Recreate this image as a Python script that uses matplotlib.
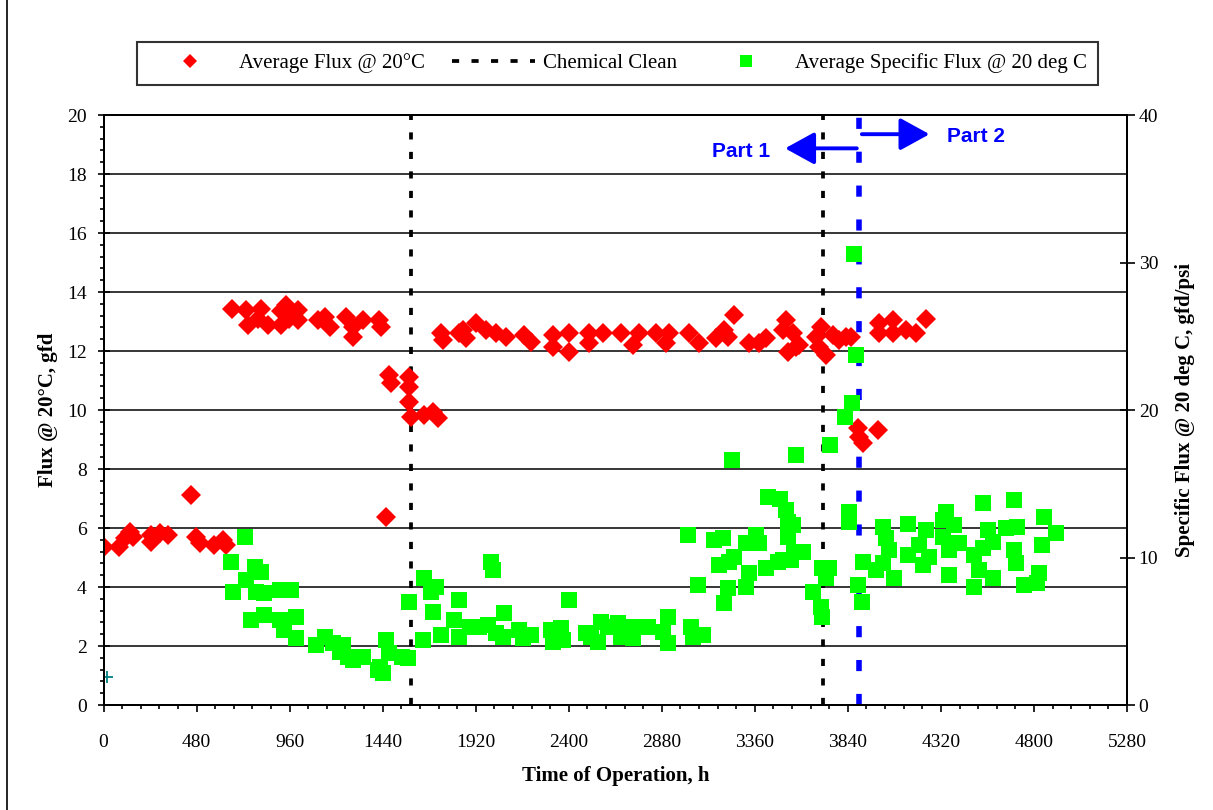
import matplotlib
matplotlib.use("Agg")
import matplotlib.pyplot as plt
from matplotlib.lines import Line2D
from matplotlib.ticker import MultipleLocator

plt.rcParams["font.family"] = ["Liberation Serif", "DejaVu Serif"]

# Average flux @ 20 C (gfd), left axis
flux_hours = [0, 79, 108, 134, 151, 246, 246, 289, 332, 452, 478, 495, 572, 615, 633,
              664, 736, 744, 796, 813, 847, 916, 942, 916, 959, 1002, 1002, 1105, 1140,
              1166, 1252, 1286, 1286, 1337, 1423, 1432,
              1458, 1475, 1484, 1578, 1578, 1578, 1587, 1655, 1698, 1724,
              1741, 1750, 1836, 1853, 1870, 1922, 1973, 2025, 2077, 2171, 2205, 2317,
              2317, 2403, 2403, 2506, 2506, 2575, 2670, 2730, 2764, 2850, 2902, 2919,
              3022, 3074, 3160, 3203, 3220, 3254, 3332, 3383, 3417, 3503, 3521, 3529,
              3555, 3572, 3589, 3675, 3693, 3701, 3727, 3761, 3796, 3830, 3856,
              3890, 3899, 3916, 3993, 4002, 4002, 4071, 4071, 4140, 4191, 4243]
flux_values = [5.37, 5.37, 5.66, 5.87, 5.70, 5.76, 5.54, 5.83, 5.76, 7.12, 5.70, 5.49, 5.42, 5.59, 5.42,
               13.41, 13.39, 12.88, 13.10, 13.41, 12.88, 13.37, 13.56, 12.88, 13.10, 13.39, 13.05, 13.05, 13.16,
               12.82, 13.16, 12.82, 12.48, 13.05, 13.05, 12.82,
               6.38, 11.19, 10.90, 11.13, 10.79, 10.28, 9.77, 9.83, 9.94, 9.72,
               12.60, 12.37, 12.60, 12.71, 12.43, 12.94, 12.71, 12.60, 12.48, 12.54, 12.32, 12.54,
               12.15, 12.60, 11.98, 12.60, 12.26, 12.60, 12.60, 12.20, 12.60, 12.60, 12.26, 12.60,
               12.60, 12.26, 12.43, 12.71, 12.48, 13.22, 12.26, 12.26, 12.43, 12.71, 13.05, 11.98,
               12.60, 12.15, 12.20, 12.48, 12.15, 12.82, 11.85, 12.54, 12.37, 12.48, 12.48,
               9.38, 9.10, 8.87, 9.32, 12.94, 12.60, 13.05, 12.60, 12.71, 12.60, 13.10]

# Average specific flux @ 20 deg C (gfd/psi), right axis
sflux_hours = [659, 667, 727, 736, 761, 779, 787, 813, 830, 830, 908, 908, 933, 968, 994, 994,
               1097, 1140, 1183, 1218, 1234, 1260, 1287, 1337, 1415, 1425, 1442, 1458, 1475,
               1537, 1569, 1578,
               1647, 1655, 1690, 1699, 1715, 1741, 1810, 1836, 1836, 1888, 1939, 1982, 1999,
               2008, 2025, 2059, 2068, 2145, 2162, 2205, 2309, 2317, 2360, 2368, 2403, 2489,
               2515, 2549, 2566, 2601, 2652, 2670, 2730, 2738, 2807, 2884, 2910, 2910, 3013,
               3031, 3039, 3065, 3091,
               3151, 3177, 3194, 3203, 3220, 3228, 3244, 3254, 3314, 3314, 3332, 3366, 3383,
               3417, 3430, 3478, 3490, 3503, 3521, 3529, 3529, 3546, 3555, 3564, 3574, 3607,
               3658, 3701, 3705, 3706, 3727, 3745, 3748, 3827, 3847, 3847, 3861, 3873, 3882,
               3894, 3913, 3916, 3985,
               4019, 4019, 4036, 4054, 4079, 4148, 4148, 4208, 4225, 4243, 4260, 4329, 4329,
               4346, 4363, 4363, 4389, 4415, 4492, 4492, 4518, 4535, 4535, 4561, 4587, 4587,
               4655, 4698, 4698, 4707, 4715, 4750, 4818, 4827, 4844, 4853, 4913]
sflux_values = [9.72, 7.68, 11.37, 8.47, 5.76, 9.38, 7.68, 9.04, 7.57, 6.10, 7.80, 5.76, 5.08, 7.80, 5.99, 4.52,
                4.07, 4.63, 4.18, 3.61, 4.07, 3.28, 3.05, 3.28, 2.37, 2.60, 2.15, 4.41, 3.50,
                3.28, 3.17, 7.00,
                4.41, 8.59, 7.68, 6.33, 8.02, 4.75, 5.76, 4.63, 7.12, 5.31, 5.31, 5.42, 9.72,
                9.15, 4.86, 4.63, 6.22, 5.08, 4.52, 4.75, 5.08, 4.29, 5.20, 4.41, 7.12, 4.86,
                4.63, 4.29, 5.65, 5.31, 5.54, 4.63, 4.52, 5.31, 5.31, 4.97, 5.99, 4.18, 11.53,
                5.31, 4.63, 8.14, 4.75,
                11.19, 9.49, 11.30, 6.89, 7.91, 9.72, 16.60, 10.05, 10.96, 8.02, 8.93, 11.53, 10.96,
                9.27, 14.10, 9.72, 14.00, 9.83, 13.20, 12.43, 11.41, 9.83, 12.20, 10.40, 16.95, 10.39,
                7.68, 6.67, 9.30, 5.99, 8.59, 9.30, 17.63, 19.50, 13.10, 12.40, 20.45, 30.60, 23.70,
                8.14, 7.00, 9.72, 9.15,
                12.09, 9.60, 11.30, 10.50, 8.59, 12.30, 10.17, 10.85, 9.49, 11.86, 10.05, 12.54, 11.40,
                13.10, 8.81, 10.50, 12.20, 10.96, 10.17, 8.02, 9.15, 10.62, 13.67, 11.86, 11.07, 8.59,
                11.98, 13.90, 10.50, 9.60, 12.09, 8.14, 8.25, 8.93, 10.85, 12.77, 11.64]

# stray point plotted at start of run
start_hours = [17]
start_values = [0.95]

clean_hours = [1584, 3710]
part_split_hour = 3895

fig = plt.figure(figsize=(12.13, 8.10), dpi=100)
ax = fig.add_axes([0.0854, 0.1296, 0.8437, 0.7284])
ax2 = ax.twinx()

ax.set_axisbelow(True)
ax.yaxis.grid(True, color="black", linewidth=1.1)

for h in clean_hours:
    ax.plot([h, h], [0, 20], color="black", linewidth=2.7, dashes=(1.9, 3.3), zorder=1.5)
ax.plot([part_split_hour, part_split_hour], [0, 20.3], color="#0000FF", linewidth=4,
        dashes=(2.0, 4.1), zorder=1.6, clip_on=False)

ax.plot(flux_hours, flux_values, linestyle="none", marker="D", markersize=10.5,
        markerfacecolor="#FF0000", markeredgewidth=0, zorder=3)
ax.plot(start_hours, start_values, linestyle="none", marker="+", markersize=9,
        markeredgewidth=1.3, color="#008080", zorder=3)
ax2.plot(sflux_hours, sflux_values, linestyle="none", marker="s", markersize=11,
         markerfacecolor="#00FF00", markeredgewidth=0, zorder=3)

# Part 1 / Part 2 markers
arrow_style = dict(arrowstyle="-|>,head_length=1.0,head_width=0.55", mutation_scale=18,
                   lw=2.8, color="#0000FF", shrinkA=0, shrinkB=0)
ax.annotate("", xy=(3516, 18.87), xytext=(3886, 18.87), arrowprops=arrow_style)
ax.annotate("", xy=(4261, 19.35), xytext=(3912, 19.35), arrowprops=arrow_style)
ax.text(3439, 18.76, "Part 1", color="#0000FF", fontsize=15, fontweight="bold",
        family="Liberation Sans", ha="right", va="center")
ax.text(4350, 19.26, "Part 2", color="#0000FF", fontsize=15, fontweight="bold",
        family="Liberation Sans", ha="left", va="center")

ax.set_xlim(0, 5280)
ax.set_ylim(0, 20)
ax2.set_ylim(0, 40)
ax.xaxis.set_major_locator(MultipleLocator(480))
ax.xaxis.set_minor_locator(MultipleLocator(96))
ax.yaxis.set_major_locator(MultipleLocator(2))
ax.yaxis.set_minor_locator(MultipleLocator(0.4))
ax2.yaxis.set_major_locator(MultipleLocator(10))

for a in (ax, ax2):
    for s in a.spines.values():
        s.set_linewidth(1.4)

ax.tick_params(axis="x", which="major", direction="out", length=4.7, width=1.2, pad=16, labelsize=14)
ax.tick_params(axis="x", which="minor", direction="out", length=3, width=1.2)
ax.tick_params(axis="y", which="major", direction="inout", length=8.6, width=1.2, pad=8, labelsize=14)
ax.tick_params(axis="y", which="minor", direction="out", length=3, width=1.2)
ax2.tick_params(axis="y", which="major", direction="inout", length=10.8, width=1.2, pad=3, labelsize=14)

ax.set_xlabel("Time of Operation, h", fontsize=15, fontweight="bold", labelpad=11)
ax.set_ylabel("Flux @ 20°C, gfd", fontsize=15, fontweight="bold", labelpad=6)
ax2.set_ylabel("Specific Flux @ 20 deg C, gfd/psi", fontsize=15, fontweight="bold", labelpad=12)

handles = [
    Line2D([], [], linestyle="none", marker="D", markersize=7, markerfacecolor="#FF0000",
           markeredgewidth=0),
    Line2D([], [], color="black", linewidth=2.7, dashes=(1.9, 3.3)),
    Line2D([], [], linestyle="none", marker="s", markersize=8, markerfacecolor="#00FF00",
           markeredgewidth=0),
]
labels = ["Average Flux @ 20°C", "Chemical Clean", "Average Specific Flux @ 20 deg C"]
leg = fig.legend(handles, labels, loc="center", bbox_to_anchor=(0.5091, 0.9216), ncol=3,
                 fontsize=15, frameon=True, fancybox=False, edgecolor="black",
                 handlelength=4.0, handletextpad=0.35, columnspacing=1.3, borderpad=0.55)
leg.get_frame().set_linewidth(1.5)

# chart border
fig.add_artist(Line2D([0.006, 0.006], [0, 1], color="black", linewidth=1.2))

fig.savefig("out.png", dpi=100)
